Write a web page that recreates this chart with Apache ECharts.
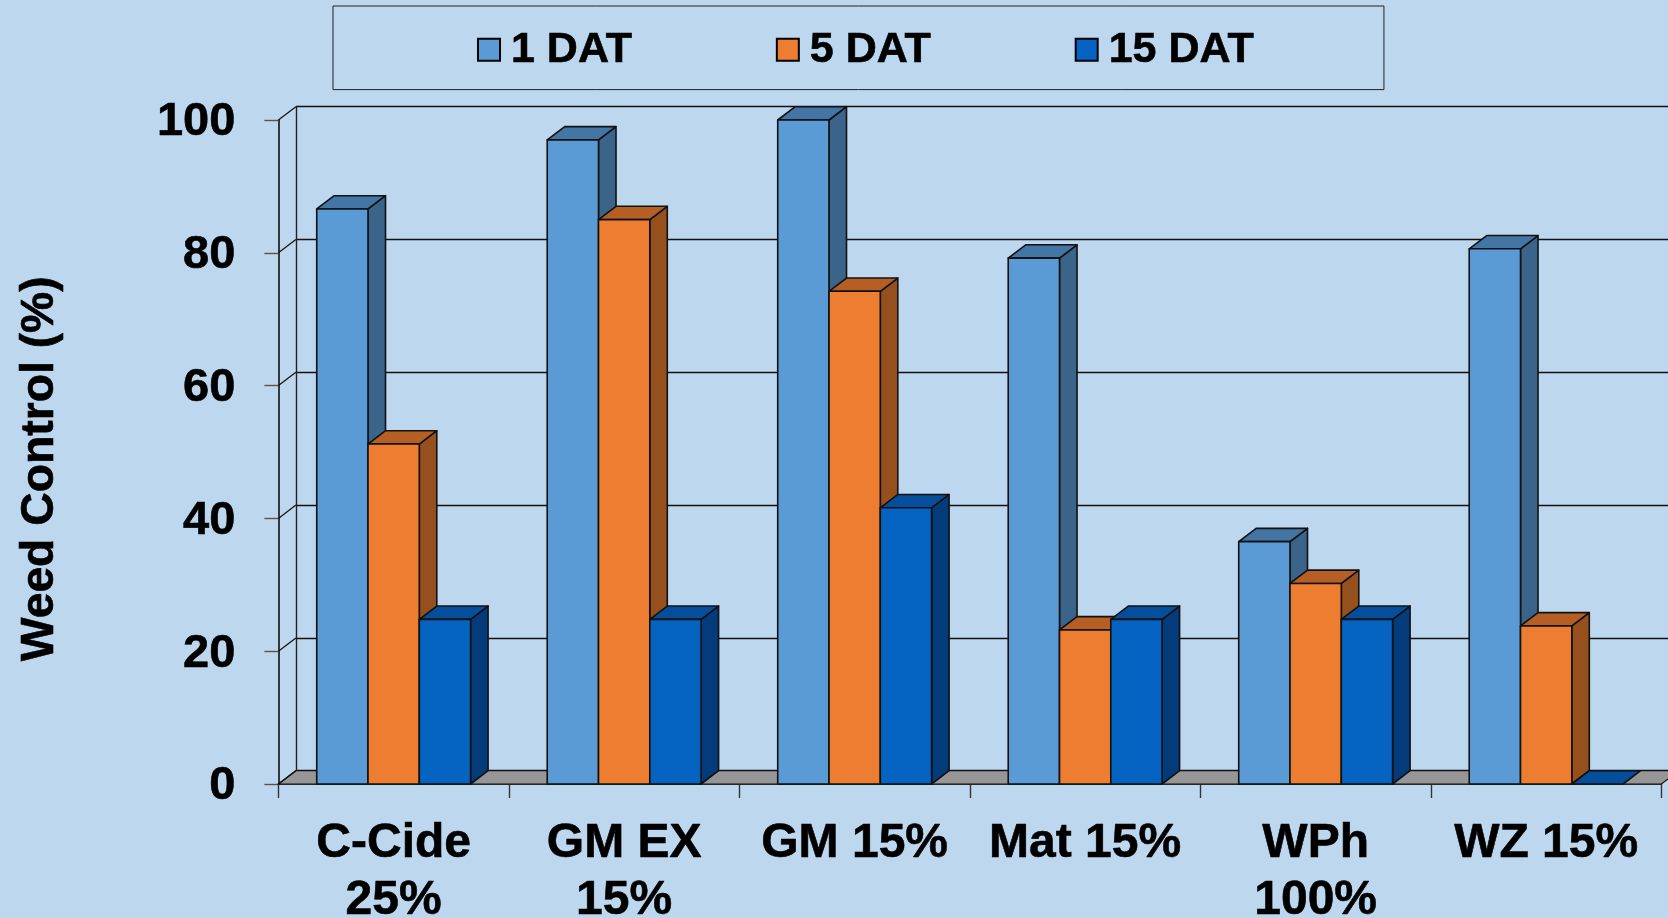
<!DOCTYPE html>
<html><head><meta charset="utf-8">
<style>html,body{margin:0;padding:0;background:#BDD7EE;overflow:hidden}#c{width:1668px;height:918px}</style>
<script src="https://cdn.jsdelivr.net/npm/echarts@6/dist/echarts.min.js"></script>
</head><body><div id="c"></div>
<script>
const categories = ['C-Cide\n25%','GM EX\n15%','GM 15%','Mat 15%','WPh\n100%','WZ 15%'];
const seriesNames = ['1 DAT','5 DAT','15 DAT'];
const dat1 = [86.6,97,100,79.2,36.5,80.6];
const dat5 = [51.2,85,74.2,23.2,30.2,23.8];
const dat15 = [24.8,24.8,41.6,24.8,24.8,0];
const yTicks = [0,20,40,60,80,100];
const front = ['#5B9BD5','#ED7D31','#0563C1'];
const top3d = ['#4375A5','#B55F25','#044E9C'];
const side = ['#3A6489','#95501E','#033B7B'];
const bg = '#BDD7EE', ink = '#111111', floor = '#969696';
const DX = 17.5, DY = 13.3, L = 278.4, T = 120, W = 1383, H = 664;
const barFrac = 0.2225;
const font = '"Liberation Sans", Arial, sans-serif';

const chart = echarts.init(document.getElementById('c'));

function barItem(k){
  return function(params, api){
    const cat = api.value(0), val = api.value(1);
    const p = api.coord([cat, val]), p0 = api.coord([cat, 0]);
    const w = api.size([1,0])[0] * barFrac;
    const x0 = p[0] - 1.5*w + k*w, x1 = x0 + w, y = p[1], b = p0[1];
    const st = c => ({fill:c, stroke:ink, lineWidth:1.6, lineJoin:'round'});
    const children = [];
    if (b - y > 0.5) children.push({type:'polygon', shape:{points:[[x1,y],[x1+DX,y-DY],[x1+DX,b-DY],[x1,b]]}, style:st(side[k])});
    children.push({type:'polygon', shape:{points:[[x0,y],[x0+DX,y-DY],[x1+DX,y-DY],[x1,y]]}, style:st(top3d[k])});
    if (b - y > 0.5) children.push({type:'rect', shape:{x:x0,y:y,width:w,height:b-y}, style:st(front[k])});
    return {type:'group', children};
  };
}

function frameItem(params, api){
  const v = api.value(0);
  const band = api.size([1,0])[0];
  const p = api.coord([0, v]);
  const xl = p[0] - band/2, y = p[1];
  const xr = xl + band*categories.length;
  const children = [];
  if (v === 0) children.push({type:'polygon', shape:{points:[[xl,y],[xl+DX,y-DY],[xr+DX,y-DY],[xr,y]]}, style:{fill:floor, stroke:ink, lineWidth:1.2}});
  children.push({type:'line', shape:{x1:xl,y1:y,x2:xl+DX,y2:y-DY}, style:{stroke:ink, lineWidth:1.2}});
  return {type:'group', children};
}

const axisFont = {fontFamily:font, fontWeight:'bold', color:'#000', textBorderColor:'#000', textBorderWidth:0.6};
chart.setOption({
  animation:false,
  backgroundColor:bg,
  legend:{
    data:seriesNames, left:333, top:6, orient:'horizontal',
    padding:[22,130,18,144], itemGap:143.5, itemWidth:22, itemHeight:22, icon:'rect',
    borderColor:'#222', borderWidth:1,
    itemStyle:{borderColor:'#000', borderWidth:2},
    textStyle:{fontFamily:font, fontWeight:'bold', fontSize:43, color:'#000', padding:[0,0,0,6], textBorderColor:'#000', textBorderWidth:0.6}
  },
  grid:[
    {left:L, top:T, width:W, height:H, outerBoundsMode:'none'},
    {left:L+DX, top:T-DY, width:W, height:H, outerBoundsMode:'none'}
  ],
  xAxis:[
    {type:'category', gridIndex:0, data:categories,
     axisLine:{show:true, lineStyle:{color:ink, width:1.6}},
     axisTick:{show:true, alignWithLabel:false, length:14, lineStyle:{color:'#333', width:1.4}},
     axisLabel:{...axisFont, fontSize:48, lineHeight:57, margin:31, interval:0}},
    {type:'category', gridIndex:1, data:categories, show:false}
  ],
  yAxis:[
    {type:'value', gridIndex:0, min:0, max:100, interval:20,
     axisLine:{show:true, lineStyle:{color:ink, width:1.6}},
     axisTick:{show:true, length:14, lineStyle:{color:'#555', width:1.4}},
     axisLabel:{...axisFont, fontSize:47, margin:43, verticalAlign:'top', lineHeight:5},
     splitLine:{show:false}},
    {type:'value', gridIndex:1, min:0, max:100, interval:20,
     axisLine:{show:true, lineStyle:{color:'#222', width:1.4}},
     axisTick:{show:false}, axisLabel:{show:false},
     splitLine:{show:true, lineStyle:{color:ink, width:1.4}}}
  ],
  series:[
    {type:'custom', name:'frame', xAxisIndex:0, yAxisIndex:0, z:1, clip:false,
     data:yTicks.map(v=>[v]), encode:{y:0}, renderItem:frameItem},
    ...[dat1,dat5,dat15].map((arr,k)=>({
      type:'custom', name:seriesNames[k], xAxisIndex:0, yAxisIndex:0, z:3+k, clip:false,
      itemStyle:{color:front[k]},
      data:arr.map((v,i)=>[i,v]), encode:{x:0,y:1}, renderItem:barItem(k)
    }))
  ],
  graphic:[{type:'text', left:17, top:276, rotation:Math.PI/2,
    style:{text:'Weed Control (%)', font:'bold 46.3px '+font, fill:'#000', stroke:'#000', lineWidth:0.6}}]
});
</script></body></html>
